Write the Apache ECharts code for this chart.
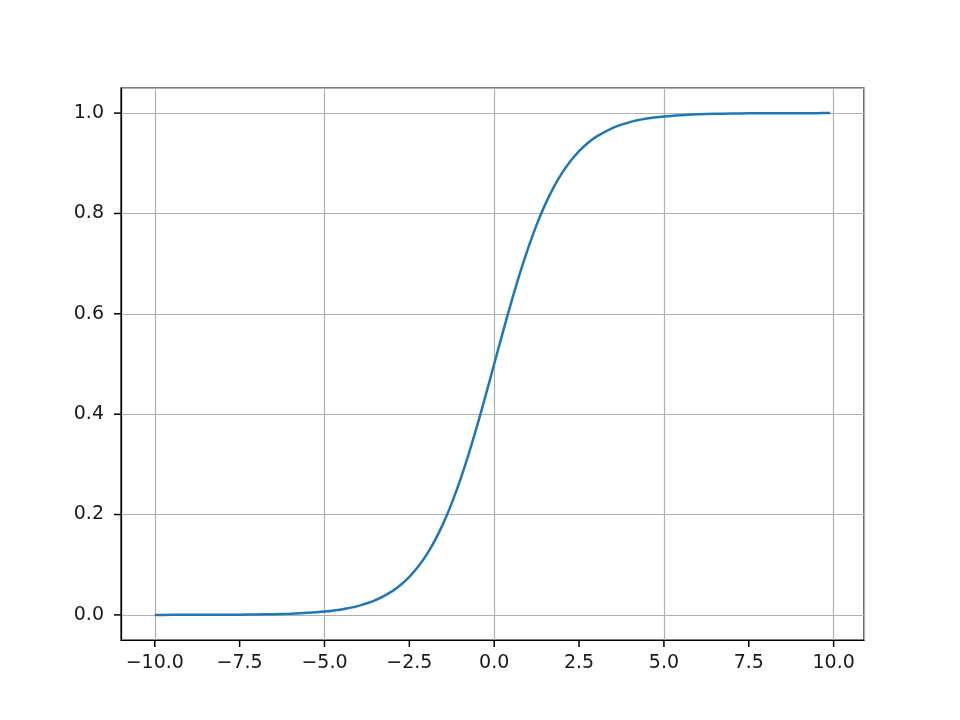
<!DOCTYPE html>
<html>
<head>
<meta charset="utf-8">
<script src="https://cdn.jsdelivr.net/npm/echarts@6/dist/echarts.min.js"></script>
<style>html,body{margin:0;padding:0;background:#fff;}#c{width:960px;height:720px;}</style>
</head>
<body>
<div id="c"></div>
<script>
var xs = [-10, -9.5, -9, -8.5, -8, -7.5, -7, -6.5, -6, -5.5, -5, -4.5, -4, -3.5, -3, -2.75, -2.5, -2.25, -2, -1.75, -1.5, -1.25, -1, -0.75, -0.5, -0.25, 0, 0.25, 0.5, 0.75, 1, 1.25, 1.5, 1.75, 2, 2.25, 2.5, 2.75, 3, 3.5, 4, 4.5, 5, 5.5, 6, 6.5, 7, 7.5, 8, 8.5, 9, 9.5, 9.9];
var ys = [0.00005, 0.00007, 0.00012, 0.0002, 0.00034, 0.00055, 0.00091, 0.0015, 0.00247, 0.00407, 0.00669, 0.01099, 0.01799, 0.02931, 0.04743, 0.06009, 0.07586, 0.09535, 0.1192, 0.14805, 0.18243, 0.2227, 0.26894, 0.32082, 0.37754, 0.43782, 0.5, 0.56218, 0.62246, 0.67918, 0.73106, 0.7773, 0.81757, 0.85195, 0.8808, 0.90465, 0.92414, 0.93991, 0.95257, 0.97069, 0.98201, 0.98901, 0.99331, 0.99593, 0.99753, 0.9985, 0.99909, 0.99945, 0.99966, 0.9998, 0.99988, 0.99993, 0.99995];
var xTicks = [-10, -7.5, -5, -2.5, 0, 2.5, 5, 7.5, 10];
var yTicks = [0, 0.2, 0.4, 0.6, 0.8, 1.0];
var xRange = [-10.995, 10.895];
var yRange = [-0.05, 1.05];

var data = xs.map(function (x, i) { return [x, ys[i]]; });
function fmt(v) { return v.toFixed(1).replace('-', '\u2212'); }

var chart = echarts.init(document.getElementById('c'), null, {renderer: 'canvas'});
chart.setOption({
  animation: false,
  backgroundColor: '#fff',
  grid: {left: 121, top: 88, width: 743, height: 552, show: true, borderColor: '#000', borderWidth: 1.2, backgroundColor: 'transparent', containLabel: false},
  xAxis: {
    type: 'value', min: xRange[0], max: xRange[1], position: 'bottom',
    axisLine: {show: true, onZero: false, lineStyle: {color: '#000', width: 1.2}},
    axisTick: {show: false},
    axisLabel: {customValues: xTicks, formatter: fmt, color: '#1a1a1a', fontSize: 19, fontFamily: 'DejaVu Sans', margin: 14},
    splitLine: {show: true, lineStyle: {color: '#b0b0b0', width: 1.2}}
  },
  yAxis: {
    type: 'value', min: yRange[0], max: yRange[1], position: 'left',
    axisLine: {show: true, onZero: false, lineStyle: {color: '#000', width: 1.2}},
    axisTick: {show: false},
    axisLabel: {customValues: yTicks, formatter: fmt, color: '#1a1a1a', fontSize: 19, fontFamily: 'DejaVu Sans', margin: 17},
    splitLine: {show: true, lineStyle: {color: '#b0b0b0', width: 1.2}}
  },
  series: [{
    type: 'line', data: data, smooth: 0.3, showSymbol: false,
    lineStyle: {color: '#1f77b4', width: 2.5}
  }]
});

// Tick marks placed through the chart's own scales
var tickEls = [];
xTicks.forEach(function (v) {
  var p = chart.convertToPixel({gridIndex: 0}, [v, yRange[0]]);
  tickEls.push({type: 'rect', z: 100, zlevel: 1, silent: true, shape: {x: p[0] - 0.75, y: p[1], width: 1.5, height: 7}, style: {fill: '#000'}});
});
yTicks.forEach(function (v) {
  var p = chart.convertToPixel({gridIndex: 0}, [xRange[0], v]);
  tickEls.push({type: 'rect', z: 100, zlevel: 1, silent: true, shape: {x: p[0] - 7, y: p[1] - 0.75, width: 7, height: 1.5}, style: {fill: '#000'}});
});
chart.setOption({graphic: {elements: tickEls}});
</script>
</body>
</html>
